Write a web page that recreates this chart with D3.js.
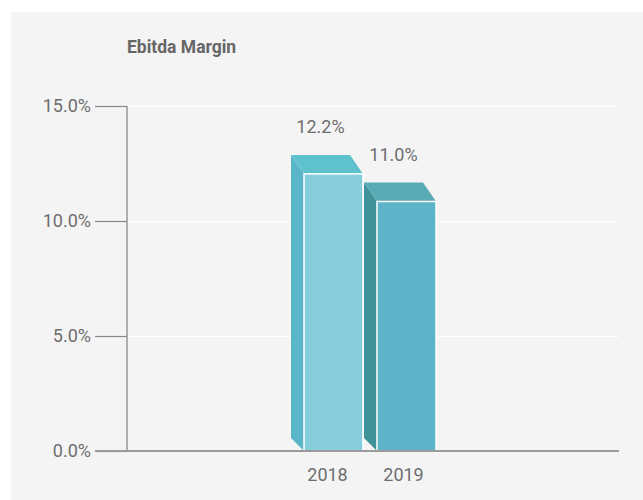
<!DOCTYPE html>
<html>
<head>
<meta charset="utf-8">
<script src="https://d3js.org/d3.v7.min.js"></script>
<style>
  html, body { margin: 0; padding: 0; background: #ffffff; }
  svg { display: block; font-family: Roboto, "Noto Sans", sans-serif; }
</style>
</head>
<body>
<svg id="chart" width="643" height="500"></svg>
<script>
const categories = ["2018", "2019"];
const values = [12.2, 11.0];
const valueLabels = ["12.2%", "11.0%"];
const tickValues = [0, 5, 10, 15];
const title = "Ebitda Margin";

const frontColors = ["#86cedb", "#5db4c8"];
const topColors = ["#5ec2ce", "#58aab5"];
const sideColors = ["#5bb5c8", "#3f9298"];

const svg = d3.select("#chart");

// panel
svg.append("rect").attr("x", 11).attr("y", 12).attr("width", 632).attr("height", 488).attr("fill", "#f4f4f4");

const axisX = 127, plotRight = 619, baseY = 451, topY = 106;
const y = d3.scaleLinear().domain([0, 15]).range([baseY, topY]);
const x = d3.scaleBand().domain(categories).range([291, 437]).padding(0);

const depthX = 13, depthYTop = 19, depthYBottom = 13, frontW = 59, frontDrop = 3.5;

// title
svg.append("text").attr("x", 127).attr("y", 53).attr("font-size", 17.5).attr("font-weight", "bold")
  .attr("fill", "#666").text(title);

// gridlines
svg.append("g").selectAll("line").data(tickValues.filter(d => d > 0)).join("line")
  .attr("x1", axisX).attr("x2", plotRight)
  .attr("y1", d => Math.round(y(d)) + 0.5).attr("y2", d => Math.round(y(d)) + 0.5)
  .attr("stroke", "#ffffff").attr("stroke-width", 1);

// y axis
const yAxis = d3.axisLeft(y).tickValues(tickValues).tickSize(32).tickPadding(4)
  .tickFormat(d => d3.format(".1f")(d) + "%");
const gy = svg.append("g").attr("transform", `translate(${axisX},0)`).call(yAxis);
gy.select(".domain").remove();
gy.selectAll(".tick line").attr("stroke", "#888").attr("stroke-width", 1.2);
gy.selectAll(".tick text").attr("font-size", 18).attr("fill", "#6e6e6e").attr("font-family", "Roboto");
svg.append("line").attr("x1", axisX).attr("x2", axisX).attr("y1", y(15)).attr("y2", baseY)
  .attr("stroke", "#888").attr("stroke-width", 1.3);

// bars
const data = categories.map((c, i) => ({ c, v: values[i], label: valueLabels[i], i }));
const bars = svg.append("g").selectAll("g").data(data).join("g");

bars.append("polygon").attr("fill", d => sideColors[d.i])
  .attr("points", d => {
    const fx = x(d.c) + depthX, ft = y(d.v) + frontDrop;
    return [[fx, ft], [fx - depthX, ft - depthYTop], [fx - depthX, baseY - depthYBottom], [fx, baseY]].join(" ");
  });
bars.append("polygon").attr("fill", d => topColors[d.i])
  .attr("points", d => {
    const fx = x(d.c) + depthX, ft = y(d.v) + frontDrop;
    return [[fx, ft], [fx - depthX, ft - depthYTop], [fx - depthX + frontW, ft - depthYTop], [fx + frontW, ft]].join(" ");
  });
bars.append("rect").attr("fill", d => frontColors[d.i])
  .attr("x", d => x(d.c) + depthX).attr("y", d => y(d.v) + frontDrop)
  .attr("width", frontW).attr("height", d => baseY - y(d.v) - frontDrop)
  .attr("stroke", "#ffffff").attr("stroke-width", 1.5);

bars.append("text").attr("text-anchor", "middle").attr("font-size", 18).attr("fill", "#6e6e6e")
  .attr("x", d => x(d.c) + frontW / 2)
  .attr("y", d => y(d.v) + frontDrop - depthYTop - 22)
  .text(d => d.label);

// baseline
svg.append("line").attr("x1", 95).attr("x2", plotRight).attr("y1", baseY).attr("y2", baseY)
  .attr("stroke", "#9a9a9a").attr("stroke-width", 2);

// category labels
svg.append("g").selectAll("text").data(categories).join("text")
  .attr("text-anchor", "middle").attr("font-size", 18).attr("fill", "#6e6e6e")
  .attr("x", (d, i) => x(d) + x.bandwidth() / 2 + (i === 1 ? 3 : 0))
  .attr("y", 481).text(d => d);
</script>
</body>
</html>
